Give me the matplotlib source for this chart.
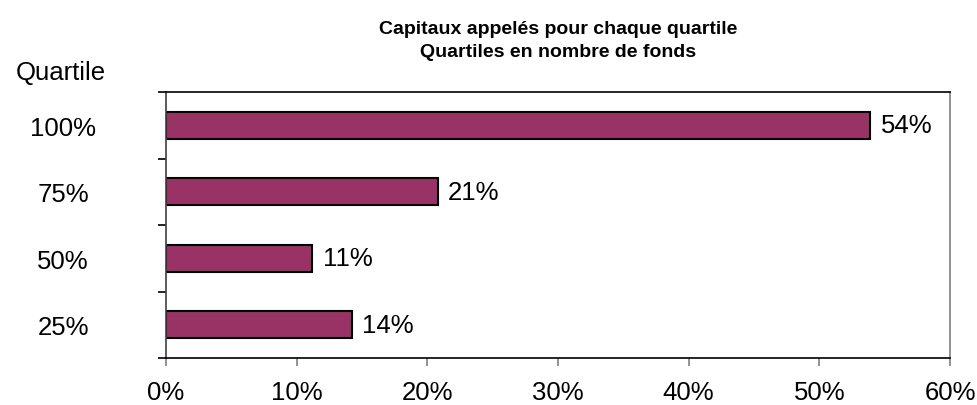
import numpy as np
import matplotlib
matplotlib.use("Agg")
from matplotlib import pyplot as plt

plt.rcParams['font.family'] = ['Liberation Sans', 'DejaVu Sans']

# data
quartiles = ['25%', '50%', '75%', '100%']
values = [14.2, 11.2, 20.8, 53.9]
value_labels = ['14%', '11%', '21%', '54%']
xticks = [0, 10, 20, 30, 40, 50, 60]
title = 'Capitaux appelés pour chaque quartile\nQuartiles en nombre de fonds'

fig = plt.figure(figsize=(9.77, 4.06), dpi=100)
ax = fig.add_axes([166/977, 1-359/406, (950-166)/977, (359-93)/406])

pos = np.arange(len(quartiles))
ax.barh(pos, values, height=0.41, color='#993366', edgecolor='black', linewidth=1.5)
for p, v, lab in zip(pos, values, value_labels):
    ax.text(v + 0.8, p, lab, va='center', ha='left', fontsize=18.5)

ax.set_xlim(0, 60)
ax.set_ylim(-0.5, len(quartiles) - 0.5)
ax.set_xticks(xticks)
ax.set_xticklabels([f'{t}%' for t in xticks], fontsize=18.5)
ax.tick_params(axis='x', length=6, width=1.2, color='#808080', pad=10)

ax.set_yticks(pos)
ax.set_yticklabels(quartiles, fontsize=18.5, ha='center')
ax.tick_params(axis='y', which='major', length=0, pad=74)
ax.set_yticks(np.arange(-0.5, len(quartiles)), minor=True)
ax.tick_params(axis='y', which='minor', length=6, width=1.2, color='black')

for s in ['left', 'bottom', 'top']:
    ax.spines[s].set_color('black')
    ax.spines[s].set_linewidth(1.2)
ax.spines['left'].set_color('#404040')
ax.spines['right'].set_color('#808080')
ax.spines['right'].set_linewidth(1.2)

fig.text(16/977, 1-73/406, 'Quartile', fontsize=18.5, va='center', ha='left')
fig.text(558/977, 1-41/406, title, fontsize=14, fontweight='bold', ha='center',
         va='center', linespacing=1.45)

fig.savefig('out.png', dpi=100)
